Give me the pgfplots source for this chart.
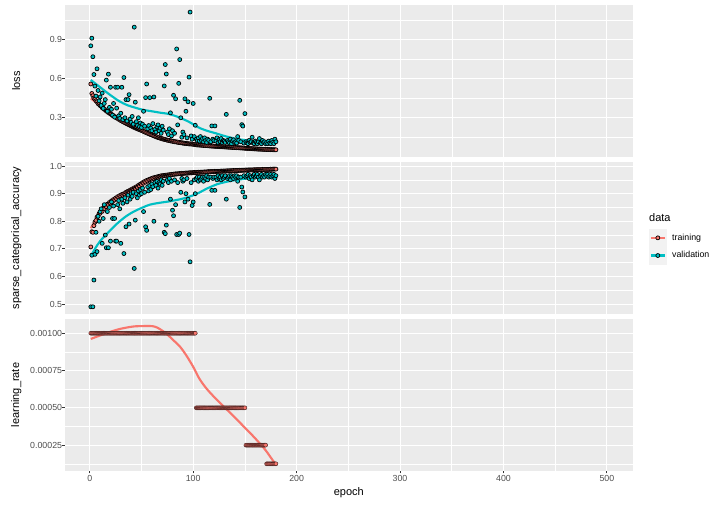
\documentclass[border=0pt]{standalone}
\usepackage{fontspec}
\setmainfont{Liberation Sans}
\usepackage{pgfplots}
\usepackage{pgfplotstable}
\pgfplotsset{compat=1.18}
\definecolor{trcol}{HTML}{F8766D}
\definecolor{vacol}{HTML}{00BFC4}
\definecolor{panelbg}{HTML}{EBEBEB}
\definecolor{keybg}{HTML}{F2F2F2}
\definecolor{grey30}{HTML}{4D4D4D}
\definecolor{grey20}{HTML}{333333}

\pgfplotstableread{
e tl vl ta va lr
1 0.560 0.854 0.707 0.490 0.001
2 0.487 0.913 0.762 0.677 0.001
3 0.470 0.770 0.760 0.490 0.001
4 0.452 0.633 0.784 0.587 0.001
5 0.444 0.544 0.797 0.680 0.001
6 0.430 0.467 0.803 0.760 0.001
7 0.423 0.677 0.815 0.690 0.001
8 0.409 0.510 0.818 0.818 0.001
9 0.403 0.430 0.828 0.800 0.001
10 0.394 0.460 0.829 0.835 0.001
11 0.389 0.395 0.837 0.845 0.001
12 0.378 0.490 0.836 0.720 0.001
13 0.376 0.372 0.847 0.810 0.001
14 0.365 0.410 0.846 0.860 0.001
15 0.362 0.440 0.855 0.750 0.001
16 0.351 0.590 0.853 0.704 0.001
17 0.350 0.350 0.862 0.835 0.001
18 0.340 0.636 0.860 0.704 0.001
19 0.338 0.380 0.868 0.850 0.001
20 0.329 0.535 0.866 0.728 0.001
21 0.327 0.365 0.874 0.870 0.001
22 0.317 0.320 0.871 0.810 0.001
23 0.316 0.410 0.879 0.855 0.001
24 0.308 0.305 0.877 0.810 0.001
25 0.304 0.535 0.884 0.728 0.001
26 0.298 0.374 0.881 0.728 0.001
27 0.295 0.535 0.889 0.860 0.001
28 0.288 0.315 0.886 0.875 0.001
29 0.286 0.295 0.893 0.845 0.001
30 0.278 0.335 0.890 0.720 0.001
31 0.277 0.535 0.897 0.880 0.001
32 0.269 0.285 0.894 0.865 0.001
33 0.268 0.610 0.900 0.683 0.001
34 0.261 0.300 0.898 0.885 0.001
35 0.258 0.440 0.905 0.780 0.001
36 0.253 0.275 0.902 0.870 0.001
37 0.250 0.440 0.909 0.895 0.001
38 0.245 0.478 0.906 0.790 0.001
39 0.242 0.290 0.913 0.880 0.001
40 0.237 0.265 0.910 0.900 0.001
41 0.235 0.310 0.917 0.890 0.001
42 0.228 0.250 0.914 0.905 0.001
43 0.228 0.998 0.921 0.629 0.001
44 0.221 0.420 0.919 0.804 0.001
45 0.220 0.270 0.925 0.900 0.001
46 0.214 0.240 0.923 0.885 0.001
47 0.213 0.300 0.930 0.910 0.001
48 0.208 0.230 0.928 0.895 0.001
49 0.206 0.260 0.935 0.915 0.001
50 0.202 0.225 0.933 0.900 0.001
51 0.199 0.250 0.940 0.920 0.001
52 0.194 0.350 0.938 0.835 0.001
53 0.192 0.235 0.944 0.905 0.001
54 0.187 0.455 0.942 0.780 0.001
55 0.185 0.560 0.948 0.767 0.001
56 0.180 0.215 0.946 0.925 0.001
57 0.178 0.240 0.951 0.910 0.001
58 0.173 0.455 0.950 0.930 0.001
59 0.171 0.220 0.954 0.915 0.001
60 0.167 0.200 0.953 0.935 0.001
61 0.165 0.255 0.957 0.925 0.001
62 0.160 0.460 0.955 0.800 0.001
63 0.159 0.210 0.959 0.940 0.001
64 0.153 0.190 0.958 0.930 0.001
65 0.153 0.230 0.961 0.945 0.001
66 0.147 0.245 0.960 0.920 0.001
67 0.147 0.200 0.963 0.940 0.001
68 0.142 0.220 0.962 0.935 0.001
69 0.142 0.180 0.965 0.950 0.001
70 0.137 0.235 0.963 0.930 0.001
71 0.137 0.205 0.966 0.945 0.001
72 0.133 0.545 0.965 0.760 0.001
73 0.132 0.710 0.967 0.755 0.001
74 0.129 0.637 0.966 0.786 0.001
75 0.128 0.190 0.968 0.950 0.001
76 0.125 0.170 0.967 0.940 0.001
77 0.125 0.215 0.969 0.955 0.001
78 0.121 0.338 0.968 0.880 0.001
79 0.122 0.160 0.970 0.945 0.001
80 0.118 0.200 0.969 0.840 0.001
81 0.119 0.473 0.971 0.820 0.001
82 0.115 0.180 0.970 0.950 0.001
83 0.116 0.446 0.972 0.860 0.001
84 0.112 0.830 0.971 0.752 0.001
85 0.113 0.245 0.972 0.940 0.001
86 0.109 0.565 0.972 0.752 0.001
87 0.110 0.748 0.973 0.757 0.001
88 0.107 0.300 0.972 0.905 0.001
89 0.108 0.150 0.974 0.955 0.001
90 0.104 0.190 0.973 0.945 0.001
91 0.105 0.170 0.974 0.950 0.001
92 0.102 0.446 0.974 0.870 0.001
93 0.103 0.350 0.975 0.900 0.001
94 0.100 0.145 0.974 0.955 0.001
95 0.101 0.423 0.975 0.880 0.001
96 0.098 0.613 0.975 0.752 0.001
97 0.099 1.114 0.976 0.653 0.001
98 0.097 0.160 0.975 0.940 0.001
99 0.098 0.135 0.976 0.857 0.001
100 0.095 0.410 0.976 0.870 0.001
101 0.096 0.155 0.977 0.950 0.001
102 0.093 0.242 0.976 0.900 0.001
103 0.092 0.135 0.977 0.955 0.0005
104 0.090 0.125 0.977 0.960 0.0005
105 0.092 0.145 0.978 0.945 0.0005
106 0.089 0.120 0.977 0.960 0.0005
107 0.090 0.155 0.978 0.950 0.0005
108 0.088 0.125 0.978 0.955 0.0005
109 0.089 0.140 0.978 0.960 0.0005
110 0.086 0.115 0.978 0.945 0.0005
111 0.088 0.145 0.979 0.960 0.0005
112 0.085 0.125 0.978 0.955 0.0005
113 0.086 0.110 0.979 0.965 0.0005
114 0.084 0.135 0.979 0.950 0.0005
115 0.085 0.125 0.980 0.960 0.0005
116 0.082 0.450 0.979 0.861 0.0005
117 0.084 0.115 0.980 0.960 0.0005
118 0.081 0.237 0.980 0.912 0.0005
119 0.083 0.135 0.980 0.955 0.0005
120 0.080 0.125 0.980 0.960 0.0005
121 0.081 0.237 0.981 0.912 0.0005
122 0.079 0.120 0.980 0.960 0.0005
123 0.080 0.145 0.981 0.950 0.0005
124 0.078 0.110 0.981 0.965 0.0005
125 0.079 0.130 0.981 0.955 0.0005
126 0.077 0.115 0.981 0.960 0.0005
127 0.078 0.140 0.982 0.950 0.0005
128 0.076 0.110 0.981 0.965 0.0005
129 0.077 0.125 0.982 0.955 0.0005
130 0.075 0.120 0.982 0.960 0.0005
131 0.076 0.110 0.982 0.965 0.0005
132 0.074 0.326 0.982 0.880 0.0005
133 0.075 0.125 0.983 0.955 0.0005
134 0.073 0.115 0.982 0.960 0.0005
135 0.074 0.105 0.983 0.965 0.0005
136 0.072 0.135 0.983 0.950 0.0005
137 0.073 0.100 0.983 0.965 0.0005
138 0.071 0.120 0.983 0.960 0.0005
139 0.072 0.130 0.984 0.955 0.0005
140 0.070 0.110 0.983 0.965 0.0005
141 0.071 0.115 0.984 0.960 0.0005
142 0.069 0.105 0.984 0.965 0.0005
143 0.070 0.155 0.984 0.945 0.0005
144 0.068 0.125 0.984 0.960 0.0005
145 0.069 0.434 0.985 0.850 0.0005
146 0.067 0.115 0.984 0.960 0.0005
147 0.068 0.247 0.985 0.924 0.0005
148 0.066 0.236 0.985 0.906 0.0005
149 0.067 0.105 0.985 0.965 0.0005
150 0.065 0.332 0.985 0.888 0.0005
151 0.064 0.115 0.986 0.960 0.00025
152 0.065 0.105 0.985 0.965 0.00025
153 0.063 0.100 0.986 0.970 0.00025
154 0.064 0.125 0.986 0.955 0.00025
155 0.062 0.110 0.986 0.965 0.00025
156 0.063 0.115 0.986 0.960 0.00025
157 0.061 0.150 0.986 0.950 0.00025
158 0.062 0.105 0.986 0.965 0.00025
159 0.060 0.100 0.987 0.970 0.00025
160 0.061 0.120 0.986 0.960 0.00025
161 0.059 0.110 0.987 0.965 0.00025
162 0.060 0.100 0.987 0.970 0.00025
163 0.058 0.115 0.987 0.960 0.00025
164 0.059 0.140 0.987 0.950 0.00025
165 0.058 0.105 0.987 0.965 0.00025
166 0.058 0.100 0.987 0.970 0.00025
167 0.057 0.125 0.988 0.960 0.00025
168 0.057 0.110 0.987 0.965 0.00025
169 0.056 0.115 0.988 0.960 0.00025
170 0.057 0.100 0.988 0.970 0.00025
171 0.055 0.110 0.988 0.965 0.000125
172 0.056 0.100 0.988 0.970 0.000125
173 0.055 0.120 0.988 0.960 0.000125
174 0.055 0.105 0.988 0.965 0.000125
175 0.054 0.100 0.989 0.970 0.000125
176 0.055 0.125 0.988 0.960 0.000125
177 0.054 0.110 0.989 0.965 0.000125
178 0.053 0.100 0.989 0.970 0.000125
179 0.054 0.135 0.989 0.955 0.000125
180 0.053 0.115 0.989 0.965 0.000125
}\hist

\pgfplotsset{
  gg/.style={
    scale only axis, width=567.7pt, height=151.5pt,
    anchor=south west,
    xmin=-23.95, xmax=524.95,
    axis background/.style={fill=panelbg},
    axis line style={draw=none},
    grid=both,
    major grid style={white, line width=1.07pt},
    minor grid style={white, line width=0.53pt},
    xtick={0,100,...,500}, minor xtick={50,150,...,450},
    tick align=outside, xtick pos=bottom, ytick pos=left,
    major tick length=2.75pt, minor tick length=0pt,
    tick style={grey20, line width=1.07pt},
    /pgf/number format/assume math mode=true,
    ticklabel style={font=\fontsize{8.8}{10}\selectfont, text=grey30},
    yticklabel style={anchor=east, inner sep=0pt},
    xticklabel style={anchor=north, inner sep=0pt, yshift=-1.5pt},
    every axis y label/.style={at={(axis description cs:-0.086,0.5)}, rotate=90, anchor=center, font=\fontsize{11}{13}\selectfont},
    every axis x label/.style={at={(axis description cs:0.5,0)}, yshift=-21.5pt, anchor=center, font=\fontsize{11}{13}\selectfont},
  },
  trpts/.style={only marks, mark=*, mark size=2pt, mark options={draw=black, fill=trcol, line width=0.7pt}},
  lrpts/.style={only marks, mark=*, mark size=2pt, mark options={draw=black!75!trcol, fill=trcol, line width=0.45pt}},
  vapts/.style={only marks, mark=*, mark size=2pt, mark options={draw=black, fill=vacol, line width=0.7pt}},
  trline/.style={no marks, smooth, trcol, line width=2.13pt},
  valine/.style={no marks, smooth, vacol, line width=2.13pt},
  keytr/.style={legend image code/.code={%
    \fill[keybg] (0pt,-8.64pt) rectangle (17.28pt,8.64pt);
    \draw[trcol, line width=2.13pt] (1.73pt,0pt) -- (15.55pt,0pt);
    \draw[black, fill=trcol, line width=0.7pt] (8.64pt,0pt) circle (2pt);}},
  keyva/.style={legend image code/.code={%
    \fill[keybg] (0pt,-8.64pt) rectangle (17.28pt,8.64pt);
    \draw[vacol, line width=2.13pt] (1.73pt,0pt) -- (15.55pt,0pt);
    \draw[black, fill=vacol, line width=0.7pt] (8.64pt,0pt) circle (2pt);}},
}

\begin{document}
\begin{tikzpicture}
\useasboundingbox (0pt,0pt) rectangle (720pt,504pt);

% loss panel
\begin{axis}[gg, at={(65pt,347.3pt)},
  ymin=0, ymax=1.167,
  ytick={0.3,0.6,0.9}, minor ytick={0.15,0.45,0.75,1.05},
  xticklabels={}, xtick style={draw=none},
  yticklabel style={/pgf/number format/.cd, fixed, precision=1},
  ylabel={loss}]
\addplot[trpts] table[x=e,y=tl]{\hist};
\addplot[vapts] table[x=e,y=vl]{\hist};
\addplot[trline] coordinates {(1,0.449) (10,0.395) (20,0.335) (30,0.285) (40,0.245) (50,0.207) (60,0.172) (70,0.140) (80,0.118) (90,0.105) (100,0.097) (110,0.090) (120,0.084) (130,0.078) (140,0.072) (150,0.066) (160,0.061) (170,0.056) (180,0.051)};
\addplot[valine] coordinates {(1,0.591) (10,0.535) (19,0.480) (28,0.430) (36,0.398) (45,0.375) (52,0.360) (60,0.350) (68,0.339) (76,0.330) (84,0.310) (90,0.290) (95,0.272) (100,0.250) (106,0.222) (114,0.198) (122,0.180) (130,0.160) (139,0.142) (146,0.132) (152,0.126) (160,0.121) (170,0.117) (180,0.115)};
\end{axis}

% accuracy panel
\begin{axis}[gg, at={(65pt,190.3pt)},
  ymin=0.465, ymax=1.014,
  ytick={0.5,0.6,0.7,0.8,0.9,1.0}, minor ytick={0.55,0.65,0.75,0.85,0.95},
  xticklabels={}, xtick style={draw=none},
  yticklabel style={/pgf/number format/.cd, fixed, fixed zerofill, precision=1},
  ylabel={sparse\_categorical\_accuracy},
  legend style={at={(axis description cs:1.0287,0.559)}, anchor=north west,
    draw=none, fill=none, inner sep=0pt, outer sep=0pt, row sep=0pt, column sep=5.5pt,
    nodes={inner sep=0pt, font=\fontsize{8.8}{10}\selectfont}},
  legend cell align=left]
\addplot[trpts, forget plot] table[x=e,y=ta]{\hist};
\addplot[vapts, forget plot] table[x=e,y=va]{\hist};
\addplot[trline, forget plot] coordinates {(1,0.775) (5,0.800) (10,0.834) (18,0.860) (26,0.882) (34,0.898) (42,0.912) (50,0.930) (58,0.948) (66,0.960) (75,0.966) (90,0.972) (107,0.977) (125,0.980) (140,0.982) (160,0.985) (180,0.987)};
\addplot[valine, forget plot] coordinates {(1,0.673) (5,0.700) (10,0.728) (18,0.760) (26,0.790) (34,0.815) (42,0.834) (50,0.848) (58,0.860) (66,0.866) (75,0.871) (84,0.877) (91,0.883) (100,0.894) (107,0.906) (113,0.918) (123,0.934) (131,0.942) (139,0.948) (150,0.954) (160,0.958) (170,0.961) (180,0.964)};
\addlegendimage{keytr}
\addlegendentry{training}
\addlegendimage{keyva}
\addlegendentry{validation}
\end{axis}

% learning rate panel
\begin{axis}[gg, at={(65pt,33.3pt)},
  ymin=0.0000788, ymax=0.001094,
  ytick={0.00025,0.0005,0.00075,0.001}, minor ytick={0.000125,0.000375,0.000625,0.000875},
  scaled y ticks=false,
  yticklabel style={/pgf/number format/.cd, fixed, fixed zerofill, precision=5},
  ylabel={learning\_rate}, xlabel={epoch}]
\addplot[lrpts] table[x=e,y=lr]{\hist};
\addplot[trline] coordinates {(1,0.000962) (10,0.000985) (20,0.001010) (30,0.001030) (42,0.001045) (52,0.001048) (61,0.001047) (66,0.001035) (71,0.001013) (76,0.000985) (81,0.000952) (87,0.000912) (93,0.000855) (100,0.000775) (106,0.000695) (113,0.000628) (122,0.000560) (130,0.000505) (138,0.000452) (146,0.000395) (154,0.000339) (162,0.000280) (170,0.000216) (178,0.000138) (180,0.000125)};
\end{axis}

\node[anchor=base west, inner sep=0pt, font=\fontsize{11}{13}\selectfont] at (649pt,282pt) {data};
\end{tikzpicture}
\end{document}
